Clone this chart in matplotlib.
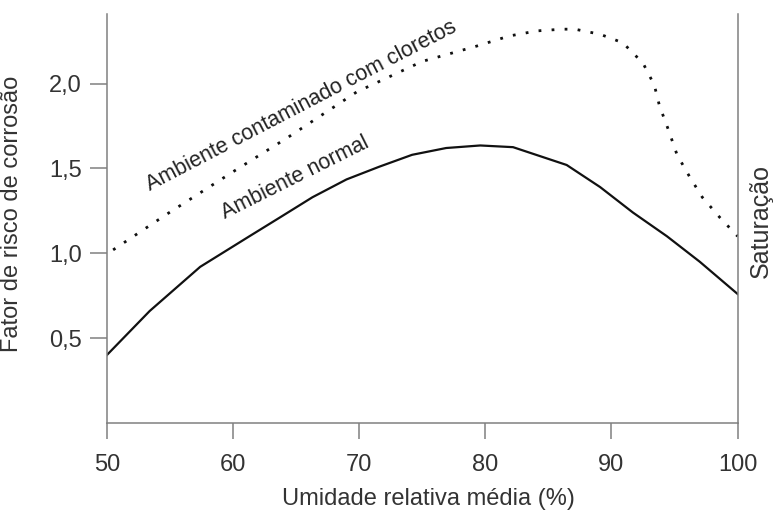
import matplotlib
matplotlib.use("Agg")
import matplotlib.pyplot as plt
from matplotlib.ticker import FuncFormatter

plt.rcParams['font.family'] = ['Liberation Sans', 'DejaVu Sans']

# curva "Ambiente normal"
umid_normal = [50, 53.4, 57.4, 61.3, 63.7, 66.3, 69.0, 71.6, 74.2, 76.9, 79.6, 82.2,
               86.45, 89.1, 91.7, 94.4, 97.0, 100]
risco_normal = [0.40, 0.66, 0.92, 1.10, 1.21, 1.33, 1.435, 1.51, 1.58, 1.62, 1.635, 1.625,
                1.52, 1.39, 1.24, 1.10, 0.95, 0.76]

# curva "Ambiente contaminado com cloretos"
umid_clor = [50.5, 54.75, 60, 64.3, 69.8, 75, 79.3, 81.9, 84.1, 86.1, 87.1, 89.1, 90.9, 92.5, 93.4,
             93.8, 94.5, 95.2, 96.2, 97.2, 98.6, 100]
risco_clor = [1.02, 1.23, 1.48, 1.68, 1.95, 2.13, 2.22, 2.28, 2.31, 2.32, 2.32, 2.29, 2.24, 2.12, 1.99,
              1.87, 1.73, 1.58, 1.45, 1.33, 1.21, 1.10]

xticks = [50, 60, 70, 80, 90, 100]
yticks = [0.5, 1.0, 1.5, 2.0]

fig = plt.figure(figsize=(7.74, 5.15), dpi=100)
ax = fig.add_axes([0.138, 0.1786, 0.815, 0.7944])

ax.plot(umid_normal, risco_normal, color='#111111', lw=1.6)
ax.plot(umid_clor, risco_clor, color='#111111', lw=2.0, linestyle=(0, (1, 3.7)))

ax.set_xlim(50, 100)
ax.set_ylim(0, 2.41)
ax.set_xticks(xticks)
ax.set_yticks(yticks)
ax.yaxis.set_major_formatter(FuncFormatter(lambda v, p: f"{v:.1f}".replace('.', ',')))

gray = '#808080'
ax.spines['top'].set_visible(False)
for s in ['left', 'bottom', 'right']:
    ax.spines[s].set_color(gray)
    ax.spines[s].set_linewidth(1.1)

ax.tick_params(axis='x', direction='out', length=11.5, width=1.1, color=gray,
               labelsize=17, labelcolor='#333333', pad=11)
ax.tick_params(axis='y', direction='out', length=12, width=1.1, color=gray,
               labelsize=17, labelcolor='#333333', pad=6)

ax.set_xlabel('Umidade relativa média (%)', fontsize=17, color='#333333')
ax.xaxis.set_label_coords(0.51, -0.16)
ax.set_ylabel('Fator de risco de corrosão', fontsize=17, color='#333333')
ax.yaxis.set_label_coords(-0.133, 0.51)

ax.text(53.4, 1.365, 'Ambiente contaminado com cloretos', fontsize=15.5, color='#222222',
        rotation=27.5, rotation_mode='anchor', ha='left', va='baseline')
ax.text(59.35, 1.20, 'Ambiente normal', fontsize=15.5, color='#222222',
        rotation=26.5, rotation_mode='anchor', ha='left', va='baseline')
ax.text(101.8, 1.19, 'Saturação', fontsize=18, color='#333333', rotation=90,
        ha='center', va='center', clip_on=False)

fig.savefig('out.png', dpi=100)
